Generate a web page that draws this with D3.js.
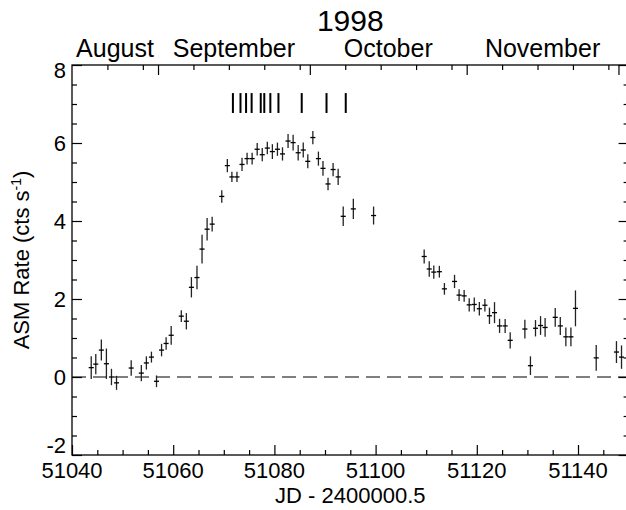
<!DOCTYPE html>
<html>
<head>
<meta charset="utf-8">
<script src="https://cdn.jsdelivr.net/npm/d3@7"></script>
<style>
  html, body { margin: 0; padding: 0; background: #fff; }
  svg { display: block; font-family: "Liberation Sans", Arial, Helvetica, sans-serif; }
</style>
</head>
<body>
<svg id="chart" width="626" height="510"></svg>
<script>
// ---- data (MJD, ASM rate, 1-sigma error) ----
const mjd = [51043.8,51044.7,51045.8,51046.8,51047.8,51048.8,51051.7,51053.7,51054.7,51055.7,51056.7,51057.7,51058.6,51059.6,51061.6,51062.6,51063.6,51064.7,51065.7,51066.7,51067.7,51069.6,51070.7,51071.6,51072.6,51073.6,51074.6,51075.6,51076.6,51077.6,51078.6,51079.6,51080.6,51081.6,51082.7,51083.7,51084.7,51085.7,51086.6,51087.6,51088.7,51089.6,51090.6,51091.6,51092.6,51093.6,51095.6,51099.6,51109.6,51110.6,51111.5,51112.6,51113.6,51115.6,51116.5,51117.5,51118.5,51119.5,51120.5,51121.6,51122.5,51123.5,51124.5,51125.6,51126.6,51129.5,51130.6,51131.6,51132.6,51133.5,51135.5,51136.5,51137.6,51138.6,51139.5,51143.6,51147.6,51148.6];
const rate = [0.24,0.33,0.69,0.34,0.00,-0.15,0.23,0.10,0.36,0.51,-0.11,0.69,0.86,1.07,1.56,1.43,2.30,2.55,3.28,3.79,3.92,4.63,5.42,5.13,5.13,5.45,5.60,5.60,5.84,5.70,5.87,5.78,5.84,5.72,6.05,6.01,5.75,5.82,5.53,6.14,5.60,5.35,4.95,5.32,5.13,4.12,4.31,4.14,3.09,2.77,2.69,2.70,2.26,2.45,2.10,2.08,1.85,1.86,1.75,1.84,1.57,1.65,1.31,1.31,0.94,1.23,0.29,1.25,1.32,1.27,1.53,1.31,1.03,1.03,1.76,0.49,0.64,0.51];
const rateErr = [0.29,0.26,0.27,0.39,0.21,0.18,0.20,0.21,0.17,0.14,0.15,0.16,0.16,0.24,0.15,0.21,0.26,0.30,0.37,0.29,0.19,0.16,0.17,0.13,0.13,0.17,0.15,0.15,0.16,0.17,0.16,0.19,0.17,0.17,0.18,0.20,0.20,0.19,0.18,0.17,0.18,0.19,0.16,0.17,0.21,0.25,0.26,0.23,0.18,0.20,0.17,0.15,0.15,0.17,0.15,0.15,0.17,0.18,0.17,0.16,0.21,0.27,0.18,0.18,0.21,0.24,0.24,0.21,0.24,0.24,0.24,0.23,0.24,0.24,0.46,0.33,0.28,0.30];
const binHalfWidth = 0.5; // days

// observation epochs marked at top
const obsDates = [51071.8,51073.3,51074.4,51075.5,51077.3,51078.0,51079.2,51080.8,51085.4,51090.3,51094.1];
const obsMarkRange = [6.77, 7.28];

// axes
const xDomain = [51040, 51150];
const yDomain = [-2, 8];
const xMajorTicks = [51040, 51060, 51080, 51100, 51120, 51140];
const xTickLabels = ["51040", "51060", "51080", "51100", "51120", "51140"];
const yMajorTicks = [-2, 0, 2, 4, 6, 8];
const yTickLabels = ["-2", "0", "2", "4", "6", "8"];
const monthNames = ["August", "September", "October", "November"];
const monthStarts = [51057, 51087, 51118, 51148];
const monthSpans = [[51040, 51057], [51057, 51087], [51087, 51118], [51118, 51148]];
const weekTicks = [51047, 51054, 51064, 51071, 51078, 51085, 51094, 51101, 51108, 51115, 51125, 51132, 51139, 51146];
const title = "1998";
const xTitle = "JD - 2400000.5";

// ---- layout ----
const L = 72, R = 628.6, T = 65, B = 455;
const svg = d3.select("#chart");
const x = d3.scaleLinear().domain(xDomain).range([L, R]);
const y = d3.scaleLinear().domain(yDomain).range([B, T]);
const FS = 22;

const xMinor = d3.range(xDomain[0], xDomain[1] + 0.001, 5).filter(v => !xMajorTicks.includes(v));
const yMinor = d3.range(yDomain[0], yDomain[1] + 0.001, 0.5).filter(v => !yMajorTicks.includes(v));

function tickGroup(axisGen, tx, ty) {
  const g = svg.append("g").attr("transform", `translate(${tx},${ty})`).call(axisGen);
  g.select(".domain").remove();
  g.selectAll("text").remove();
  g.selectAll("line").attr("stroke", "#000").attr("stroke-width", 1.2);
  return g;
}
// bottom
tickGroup(d3.axisBottom(x).tickValues(xMajorTicks).tickSize(-10), 0, B);
tickGroup(d3.axisBottom(x).tickValues(xMinor).tickSize(-5), 0, B);
// left
tickGroup(d3.axisLeft(y).tickValues(yMajorTicks).tickSize(-10), L, 0);
tickGroup(d3.axisLeft(y).tickValues(yMinor).tickSize(-5), L, 0);
// right
tickGroup(d3.axisRight(y).tickValues(yMajorTicks).tickSize(-10), R, 0);
tickGroup(d3.axisRight(y).tickValues(yMinor).tickSize(-5), R, 0);
// top: month starts (long) and weekly (short)
tickGroup(d3.axisTop(x).tickValues(monthStarts).tickSize(-10), 0, T);
tickGroup(d3.axisTop(x).tickValues(weekTicks).tickSize(-5), 0, T);

// frame
svg.append("rect").attr("x", L).attr("y", T).attr("width", R - L).attr("height", B - T)
  .attr("fill", "none").attr("stroke", "#000").attr("stroke-width", 1.3);

// zero line
svg.append("line").attr("x1", x(xDomain[0])).attr("x2", x(xDomain[1]))
  .attr("y1", y(0)).attr("y2", y(0))
  .attr("stroke", "#000").attr("stroke-width", 1.1).attr("stroke-dasharray", "14,7");

// tick labels
svg.append("g").selectAll("text").data(xMajorTicks).join("text")
  .attr("x", d => x(d)).attr("y", 478).attr("text-anchor", "middle")
  .attr("font-size", FS).text((d, i) => xTickLabels[i]);
svg.append("g").selectAll("text").data(yMajorTicks).join("text")
  .attr("x", 66).attr("y", (d, i) => y(d) + (i === 0 ? -10 : i === yMajorTicks.length - 1 ? 5 : 0))
  .attr("dy", "0.36em").attr("text-anchor", "end")
  .attr("font-size", FS).text((d, i) => yTickLabels[i]);

// month labels
svg.append("g").selectAll("text").data(monthNames).join("text")
  .attr("x", (d, i) => (x(monthSpans[i][0]) + x(monthSpans[i][1])) / 2).attr("y", 57)
  .attr("text-anchor", "middle").attr("font-size", 25).text(d => d);

// title
svg.append("text").attr("x", (L + R) / 2).attr("y", 31).attr("text-anchor", "middle")
  .attr("font-size", 30).text(title);

// x title
svg.append("text").attr("x", (L + R) / 2).attr("y", 503).attr("text-anchor", "middle")
  .attr("font-size", FS).text(xTitle);

// y title
const yt = svg.append("text").attr("transform", `translate(29,${(T + B) / 2}) rotate(-90)`)
  .attr("text-anchor", "middle").attr("font-size", FS);
yt.append("tspan").text("ASM Rate (cts s");
yt.append("tspan").attr("font-size", 14).attr("dy", -8).text("-1");
yt.append("tspan").attr("dy", 8).text(")");

// observation marks
svg.append("g").selectAll("line").data(obsDates).join("line")
  .attr("x1", d => x(d)).attr("x2", d => x(d))
  .attr("y1", y(obsMarkRange[1])).attr("y2", y(obsMarkRange[0]))
  .attr("stroke", "#000").attr("stroke-width", 2);

// data points with error bars
const pts = mjd.map((d, i) => ({ t: d, r: rate[i], e: rateErr[i] }));
const gp = svg.append("g").attr("stroke", "#000");
gp.selectAll("line.ey").data(pts).join("line").attr("class", "ey")
  .attr("x1", d => x(d.t)).attr("x2", d => x(d.t))
  .attr("y1", d => y(d.r - d.e)).attr("y2", d => y(d.r + d.e))
  .attr("stroke-width", 1.3).attr("stroke", "#222");
gp.selectAll("line.ex").data(pts).join("line").attr("class", "ex")
  .attr("x1", d => x(d.t - binHalfWidth)).attr("x2", d => x(d.t + binHalfWidth))
  .attr("y1", d => y(d.r)).attr("y2", d => y(d.r))
  .attr("stroke-width", 1.3);
</script>
</body>
</html>
